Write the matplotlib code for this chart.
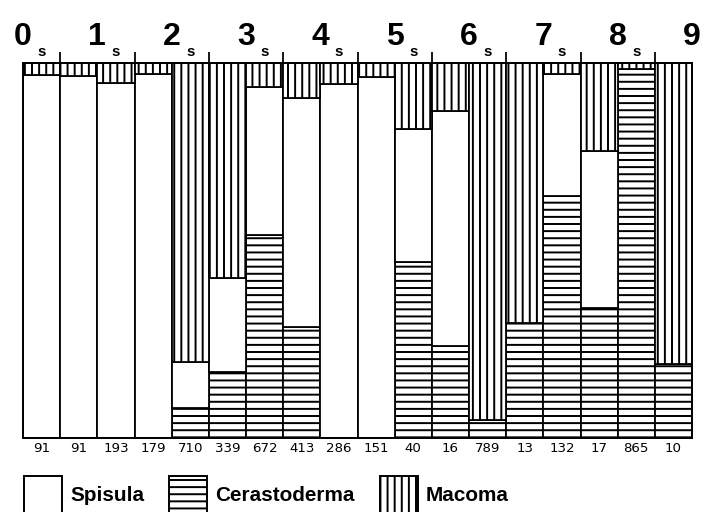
import matplotlib
matplotlib.use('Agg')
import matplotlib.pyplot as plt
from matplotlib.patches import Patch
import numpy as np

# sample sizes written under each bar
counts = ['91', '91', '193', '179', '710', '339', '672', '413', '286',
          '151', '40', '16', '789', '13', '132', '17', '865', '10']

# percentages per bar (bottom to top: Cerastoderma, Spisula, Macoma)
cerastoderma = [0, 0, 0, 0, 8.0, 17.7, 54.0, 29.6, 0, 0, 47.0, 24.5, 4.8, 30.6, 64.6, 34.8, 98.4, 19.7]
spisula = [96.8, 96.5, 94.6, 97.0, 12.3, 25.0, 39.6, 61.0, 94.4, 96.2, 35.4, 62.7, 0, 0, 32.4, 41.6, 0, 0]
macoma = [100 - c - s for c, s in zip(cerastoderma, spisula)]

top_digits = ['0', '1', '2', '3', '4', '5', '6', '7', '8', '9']

plt.rcParams['hatch.linewidth'] = 1.1
plt.rcParams['font.family'] = ['Liberation Sans', 'DejaVu Sans']

fig = plt.figure(figsize=(5.5, 4), dpi=128)
ax = fig.add_axes([0.0327, 0.1445, 0.9503, 0.7325])

x = np.arange(len(counts)) + 0.5
ax.bar(x, cerastoderma, width=1, color='white', edgecolor='black', hatch='---', linewidth=1.0)
ax.bar(x, spisula, width=1, bottom=cerastoderma, color='white', edgecolor='black', linewidth=1.0)
bottom2 = [c + s for c, s in zip(cerastoderma, spisula)]
ax.bar(x, macoma, width=1, bottom=bottom2, color='white', edgecolor='black', hatch='|||', linewidth=1.0)

ax.set_xlim(0, len(counts))
ax.set_ylim(0, 100)
ax.set_yticks([])
ax.set_xticks(np.arange(1, len(counts), 2))
ax.set_xticklabels([])
ax.tick_params(axis='x', top=True, bottom=False, direction='out', length=6, width=1.0)
for sp in ax.spines.values():
    sp.set_linewidth(1.1)

trans = ax.get_xaxis_transform()
for i, d in enumerate(top_digits):
    ax.text(2 * i, 1.07, d, transform=trans, ha='center', va='center',
            fontsize=18, fontweight='bold')
for i in range(9):
    ax.text(2 * i + 0.5, 1.03, 's', transform=trans, ha='center', va='center',
            fontsize=8.5, fontweight='bold')
for xi, c in zip(x, counts):
    ax.text(xi, -0.028, c, transform=trans, ha='center', va='center', fontsize=7.5,
            family=['Liberation Sans Narrow', 'DejaVu Sans'])

handles = [Patch(facecolor='white', edgecolor='black', linewidth=1.1, label='Spisula'),
           Patch(facecolor='white', edgecolor='black', linewidth=1.1, hatch='---', label='Cerastoderma'),
           Patch(facecolor='white', edgecolor='black', linewidth=1.1, hatch='|||', label='Macoma')]
leg = fig.legend(handles=handles, loc='lower left', bbox_to_anchor=(0.008, -0.038), ncol=3,
                 frameon=False, handlelength=1.83, handleheight=2.36, handletextpad=0.38,
                 columnspacing=1.2, prop={'weight': 'bold', 'size': 11.7})

fig.savefig('out.png', dpi=128)
